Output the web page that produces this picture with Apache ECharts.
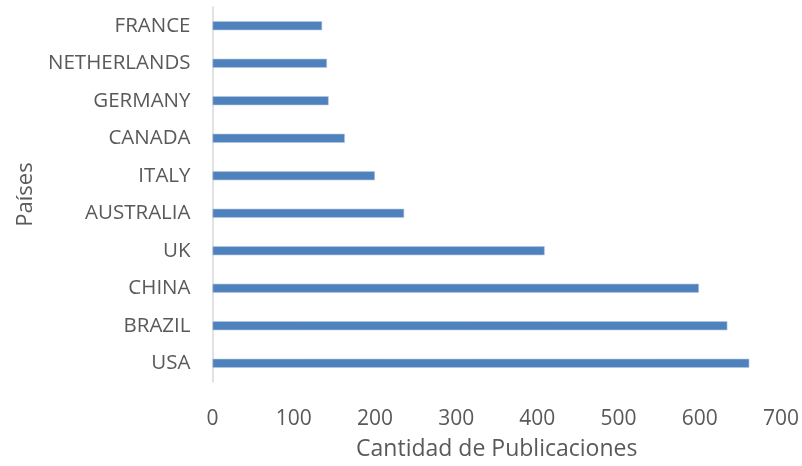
<!DOCTYPE html>
<html><head><meta charset="utf-8">
<script src="https://cdn.jsdelivr.net/npm/echarts@6/dist/echarts.min.js"></script>
<style>html,body{margin:0;padding:0;background:#fff}#c{width:802px;height:466px}</style>
</head><body><div id="c"></div>
<script>
const countries = ['FRANCE','NETHERLANDS','GERMANY','CANADA','ITALY','AUSTRALIA','UK','CHINA','BRAZIL','USA'];
const publications = [135, 141, 143, 163, 200, 236, 409, 599, 634, 661];
const xTicks = {min: 0, max: 700, interval: 100};
const xTitle = 'Cantidad de Publicaciones';
const yTitle = 'Países';

const font = 'Open Sans';
const chart = echarts.init(document.getElementById('c'), null, {renderer: 'canvas'});
chart.setOption({
  animation: false,
  grid: {left: 212.5, right: 18, top: 7, bottom: 83.5, containLabel: false},
  xAxis: {
    type: 'value', min: xTicks.min, max: xTicks.max, interval: xTicks.interval,
    axisLine: {show: false}, axisTick: {show: false}, splitLine: {show: false},
    axisLabel: {color: '#595959', fontSize: 21, fontFamily: font, margin: 27},
    name: xTitle, nameLocation: 'middle', nameGap: 56,
    nameTextStyle: {color: '#595959', fontSize: 23, fontFamily: font}
  },
  yAxis: {
    type: 'category', data: countries.slice().reverse(),
    axisLine: {show: true, lineStyle: {color: '#d9d9d9', width: 1.5}},
    axisTick: {show: false},
    axisLabel: {color: '#595959', fontSize: 20.5, fontFamily: font, margin: 22},
    name: yTitle, nameLocation: 'middle', nameGap: 176, nameRotate: 90,
    nameTextStyle: {color: '#595959', fontSize: 22, fontFamily: font}
  },
  series: [{
    type: 'bar', data: publications.slice().reverse(), barWidth: 9,
    itemStyle: {color: '#4f81bd', borderColor: '#b4c8e4', borderWidth: 0.6}
  }]
});
</script></body></html>
